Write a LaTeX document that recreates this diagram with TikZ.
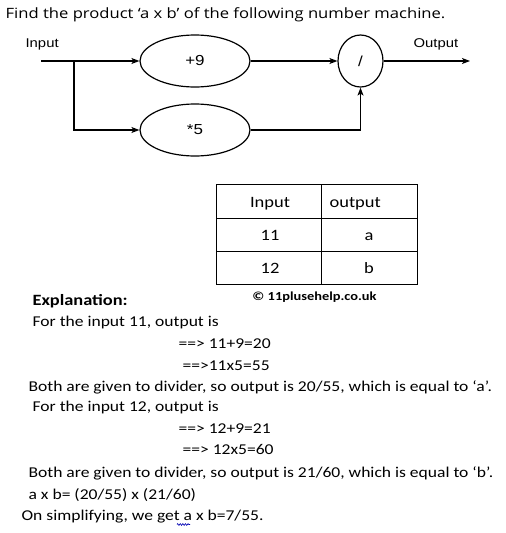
\documentclass[tikz,border=0pt]{standalone}
\usepackage{fontspec}
\usepackage{graphicx}
\setmainfont{Carlito}
\newfontfamily\titlefont{Open Sans}
\newfontfamily\arialfont{Liberation Sans}
\usetikzlibrary{shapes.geometric,arrows.meta,decorations.pathmorphing}
\newcommand\sx[1]{\scalebox{1.17}[1]{#1}}
\begin{document}
\begin{tikzpicture}[x=1pt,y=-1pt,
  line width=1.2pt,
  every node/.style={inner sep=0pt},
  arr/.style={-{Stealth[length=8pt,width=6pt,inset=2pt]}},
  ell/.style={draw,ellipse,minimum width=110pt,minimum height=52pt,font=\arialfont\fontsize{14.5}{16}\selectfont},
  lbl/.style={anchor=base west,font=\arialfont\fontsize{12.7}{16}\selectfont},
  txt/.style={anchor=base west,font=\fontsize{15}{18}\selectfont},
  cell/.style={anchor=base,font=\fontsize{15.8}{18}\selectfont},
  cellw/.style={anchor=base west,font=\fontsize{15.8}{18}\selectfont}]
\useasboundingbox (0,0) rectangle (506,533);
% title
\node[anchor=base west,font=\titlefont\fontsize{14.2}{17}\selectfont] (title) at (5,18.3) {\sx{Find the product ‘a x b’ of the following number machine.}};
% machine
\node[lbl] (inlbl) at (25,47.7) {\sx{Input}};
\node[lbl] (outlbl) at (413,47.7) {\sx{Output}};
\node[ell] (p9) at (195,61) {\sx{+9}};
\node[ell] (m5) at (195,130) {\sx{*5}};
\node[ell,minimum width=45pt] (div) at (360.5,61) {\sx{/}};
\coordinate (in) at (41,61);
\coordinate (br) at (74,61);
\coordinate (out) at (470,61);
\draw (in) -- (br);
\draw[arr] (br) -- (p9);
\draw[arr] (br) |- (m5);
\draw[arr] (p9) -- (div);
\draw[arr] (m5.east) -| (div.south);
\draw[arr] (div) -- (out);
% table
\draw[line width=0.9pt] (216,184.7) rectangle (417,284.3);
\draw[line width=0.9pt] (216,218.3) -- (417,218.3);
\draw[line width=0.9pt] (216,251) -- (417,251);
\draw[line width=0.9pt] (321.7,184.7) -- (321.7,284.3);
\node[cell] (h1) at (270,207.3) {\sx{Input}};
\node[cellw] (h2) at (329,207.3) {\sx{output}};
\node[cell] (r1a) at (270,240.7) {\sx{11}};
\node[cell] (r1b) at (369,240.7) {\sx{a}};
\node[cell] (r2a) at (270,273.3) {\sx{12}};
\node[cell] (r2b) at (369,273.3) {\sx{b}};
\node[anchor=base,font=\bfseries\fontsize{12.3}{15}\selectfont] (copy) at (314.5,300.7) {\sx{© 11plusehelp.co.uk}};
% explanation
\node[anchor=base west,font=\bfseries\fontsize{15.7}{18}\selectfont] (expl) at (32,305) {\sx{Explanation:}};
\node[txt] (l1) at (32,326.5) {\sx{For the input 11, output is}};
\node[txt] (l2) at (178,348) {\sx{==> 11+9=20}};
\node[txt] (l3) at (182,370) {\sx{==>11x5=55}};
\node[txt] (l4) at (28,391) {\sx{Both are given to divider, so output is 20/55, which is equal to ‘a’.}};
\node[txt] (l5) at (32,411.7) {\sx{For the input 12, output is}};
\node[txt] (l6) at (178,433.3) {\sx{==> 12+9=21}};
\node[txt] (l7) at (182,454.5) {\sx{==> 12x5=60}};
\node[txt] (l8) at (28,477.3) {\sx{Both are given to divider, so output is 21/60, which is equal to ‘b’.}};
\node[txt] (l9) at (28,499) {\sx{a x b= (20/55) x (21/60)}};
\node[txt] (l10) at (21,520) {\sx{On simplifying, we get a x b=7/55.}};
\coordinate (w1) at (177,524.5);
\coordinate (w2) at (190,524.5);
\draw[blue!70!black,line width=0.6pt,decorate,decoration={zigzag,segment length=2.6pt,amplitude=0.9pt}] (w1) -- (w2);
\end{tikzpicture}
\end{document}
